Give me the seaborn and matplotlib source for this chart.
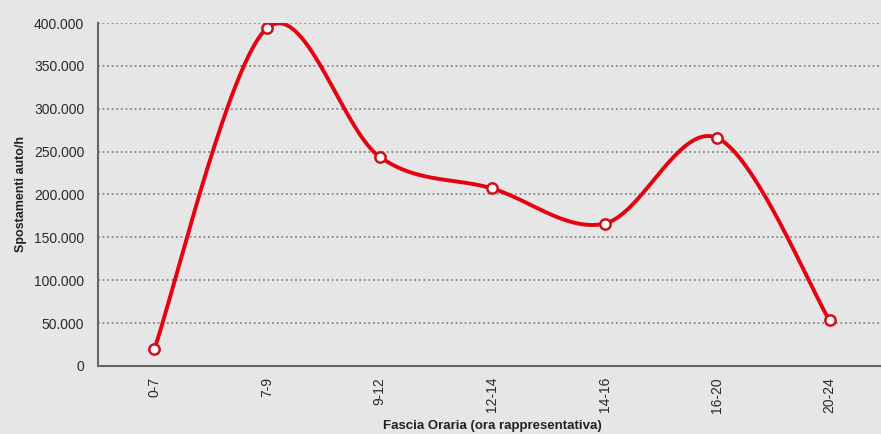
import numpy as np
import pandas as pd
import matplotlib
matplotlib.use("Agg")
import matplotlib.pyplot as plt
import seaborn as sns
from matplotlib.ticker import FuncFormatter

# Dati
fasce = ["0-7", "7-9", "9-12", "12-14", "14-16", "16-20", "20-24"]
spostamenti = [20000, 394000, 244000, 207000, 166000, 266000, 53000]

df = pd.DataFrame({"fascia": fasce, "spostamenti": spostamenti})
df["pos"] = np.arange(len(df))


def smooth_curve(x, y, steps=40):
    # curva "smussata" stile Excel (Bezier Catmull-Rom)
    p = np.column_stack([x, y]).astype(float)
    p_ext = np.vstack([p[0], p, p[-1]])
    out = []
    t = np.linspace(0, 1, steps)
    for i in range(1, len(p_ext) - 2):
        p0, p1, p2, p3 = p_ext[i - 1], p_ext[i], p_ext[i + 1], p_ext[i + 2]
        c1 = p1 + (p2 - p0) / 6.0
        c2 = p2 - (p3 - p1) / 6.0
        seg = ((1 - t) ** 3)[:, None] * p1 + (3 * (1 - t) ** 2 * t)[:, None] * c1 \
            + (3 * (1 - t) * t ** 2)[:, None] * c2 + (t ** 3)[:, None] * p2
        out.append(seg if i == 1 else seg[1:])
    return np.vstack(out)


sns.set_theme(style="white")
plt.rcParams["font.family"] = ["Liberation Sans", "DejaVu Sans"]

bg = "#e6e6e6"
fig = plt.figure(figsize=(8.81, 4.34), dpi=100, facecolor=bg)
ax = fig.add_axes([0.1115, 0.157, 0.894, 0.79])
ax.set_facecolor(bg)

curve = smooth_curve(df["pos"], df["spostamenti"])
smooth_df = pd.DataFrame({"x": curve[:, 0], "y": curve[:, 1]})
sns.lineplot(data=smooth_df, x="x", y="y", sort=False, color="#e60010", linewidth=2.8, ax=ax, zorder=3)
sns.scatterplot(data=df, x="pos", y="spostamenti", s=55, marker="o", facecolor="white",
                edgecolor="#d0101a", linewidth=1.8, ax=ax, zorder=4)

ax.set_xlim(-0.5, 6.5)
ax.set_ylim(0, 400000)
ax.set_yticks(np.arange(0, 400001, 50000))
ax.yaxis.set_major_formatter(FuncFormatter(lambda v, _: f"{int(v):,}".replace(",", ".")))
ax.set_xticks(df["pos"])
ax.set_xticklabels(fasce, rotation=90)

ax.grid(axis="y", linestyle=(0, (1.2, 1.8)), color="#777777", linewidth=1.1)
ax.set_axisbelow(True)
for side in ["top", "right"]:
    ax.spines[side].set_visible(False)
for side in ["left", "bottom"]:
    ax.spines[side].set_color("#666666")
    ax.spines[side].set_linewidth(1.5)

ax.tick_params(axis="both", which="major", direction="out", length=5, width=1.3,
               color="#666666", labelsize=10, labelcolor="#2a2a2a", pad=3)
ax.tick_params(axis="y", length=8, pad=2)

ax.set_xlabel("Fascia Oraria (ora rappresentativa)", fontsize=9.5, fontweight="bold", color="#222222", labelpad=5)
ax.set_ylabel("Spostamenti auto/h", fontsize=9, fontweight="bold", color="#222222", labelpad=5)

fig.savefig("out.png", dpi=100, facecolor=bg)
